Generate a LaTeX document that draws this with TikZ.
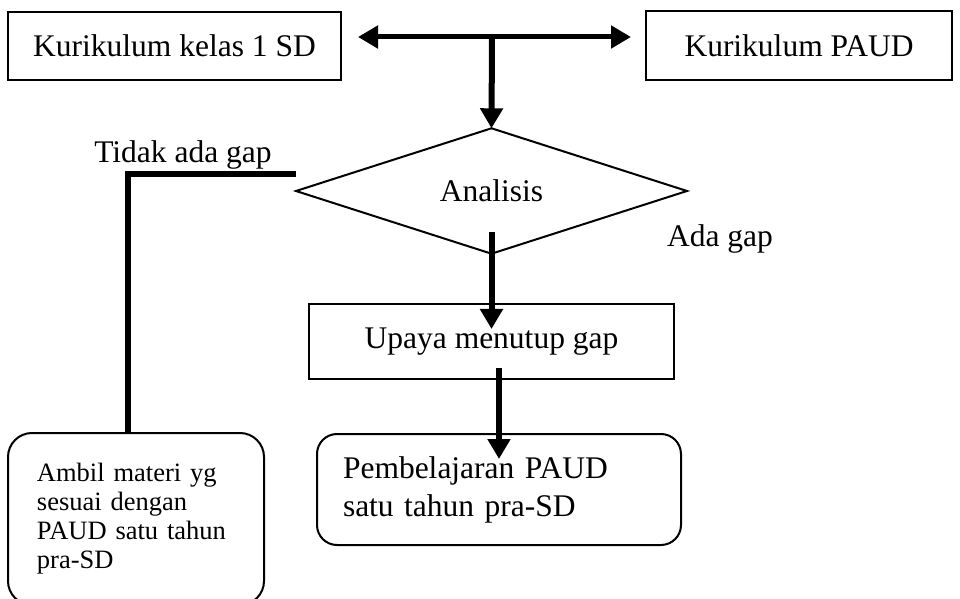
\documentclass[tikz,border=0pt]{standalone}
\usepackage{fontspec}
\setmainfont{Liberation Serif}
\usepackage{tikz}
\usetikzlibrary{positioning,shapes.geometric,arrows.meta}

\begin{document}
\begin{tikzpicture}[x=0.5pt, y=-0.5pt,
	box/.style = {rectangle, draw, line width=1pt, inner sep=0pt, align=center, font=\fontsize{15.75}{19}\selectfont},
	rbox/.style = {rectangle, draw, rounded corners=10pt, line width=1pt, inner ysep=0pt, align=left},
	decision/.style = {diamond, draw, line width=1pt, inner sep=0pt, outer sep=0pt, minimum width=195.5pt, minimum height=58pt, font=\fontsize{15.75}{19}\selectfont},
	flow/.style = {line width=3pt, -{Triangle[length=10pt,width=11pt]}},
	note/.style = {anchor=base, font=\fontsize{15.75}{19}\selectfont}]
	\useasboundingbox (0,0) rectangle (960,599);

	\node[box, minimum width=166.5pt, minimum height=34pt] (kelas) at (174.5,46) {Kurikulum kelas 1 SD};
	\node[box, minimum width=153pt, minimum height=34.5pt] (paud) at (799,45.5) {Kurikulum PAUD};
	\node[decision] (analisis) at (491.5,191) {Analisis};
	\node[box, minimum width=182.5pt, minimum height=37.5pt] (upaya) at (491.5,341.5) {Upaya menutup gap};
	\node[rbox, text width=156pt, inner xsep=13pt, minimum height=55.5pt, font=\fontsize{15.75}{19}\selectfont] (pembelajaran) at (499,489.5) {Pembelajaran PAUD\\satu tahun pra-SD};
	\node[rbox, rounded corners=12pt, text width=99pt, inner xsep=14.5pt, minimum height=86pt, font=\fontsize{13.25}{14.5}\selectfont] (ambil) at (136,519) {Ambil materi yg\\sesuai dengan\\PAUD satu tahun\\pra-SD};

	\node[note] (tidak) at (183,163) {Tidak ada gap};
	\node[note] (ada) at (720,247) {Ada gap};

	\coordinate (mid) at (492,37);

	\draw[flow, {Triangle[length=10pt,width=11pt]}-{Triangle[length=10pt,width=11pt]}, line width=2.5pt, shorten <=8pt, shorten >=7pt] ([yshift=4.5pt]kelas.east) to ([yshift=4.25pt]paud.west);
	\draw[flow] (mid) to (analisis.north);
	\draw[line width=3pt] ([yshift=8.5pt]analisis.west) -| ([xshift=-4pt]ambil.north);
	\draw[flow, shorten <=-11pt, shorten >=-13pt] (analisis.south) to (upaya.north);
	\draw[flow, shorten <=-6pt, shorten >=-13pt] (upaya.south -| pembelajaran.north) to (pembelajaran.north);
\end{tikzpicture}
\end{document}
